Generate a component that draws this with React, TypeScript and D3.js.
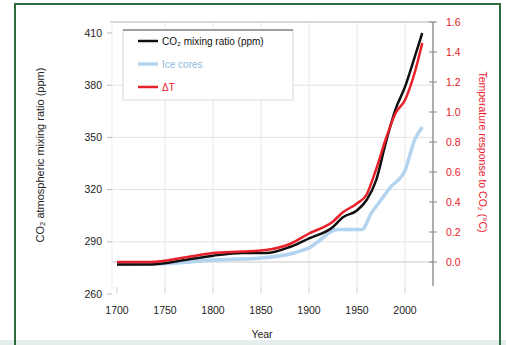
import React from "react";
import * as d3 from "d3";

// black series: CO2 mixing ratio (ppm), left axis
const years = [1700, 1735, 1770, 1800, 1830, 1855, 1880, 1900, 1925, 1935, 1950, 1960, 1970, 1980, 1990, 2000, 2010, 2018];
const co2 = [277, 277, 279.5, 282, 283.5, 283.5, 287, 292, 298.5, 304, 308, 314, 325.5, 347, 366, 379, 396, 410];

// light blue series, left axis
const blueYears = [1700, 1750, 1800, 1850, 1880, 1900, 1930, 1955, 1965, 1975, 1985, 2000, 2010, 2018];
const blueVals = [277, 277.5, 279.5, 280.7, 283, 286.5, 297, 297, 306.5, 314, 321.5, 331, 348.5, 356];

// red series, right axis
const redVals = [0.0, 0.0, 0.03, 0.06, 0.07, 0.08, 0.12, 0.19, 0.27, 0.33, 0.39, 0.45, 0.62, 0.82, 0.99, 1.08, 1.26, 1.46];

const xTicks = [1700, 1750, 1800, 1850, 1900, 1950, 2000];
const leftTicks = [260, 290, 320, 350, 380, 410];
const rightTicks = [0, 0.2, 0.4, 0.6, 0.8, 1.0, 1.2, 1.4, 1.6];

const legendItems = [
  { label: "CO₂ mixing ratio (ppm)", color: "#111", w: 2.5 },
  { label: "Ice cores", color: "#b3d4f0", w: 3.5 },
  { label: "ΔT", color: "#e8202a", w: 2.5 },
];

const RED = "#e8202a";

export default function App() {
  const x = d3.scaleLinear().domain([1700, 2000]).range([117, 405]);
  const yL = d3.scaleLinear().domain([260, 410]).range([294, 33]);
  const yR = d3.scaleLinear().domain([0, 1.6]).range([262, 22]);

  const lineL = d3.line<[number, number]>().x(d => x(d[0])).y(d => yL(d[1])).curve(d3.curveMonotoneX);
  const lineR = d3.line<[number, number]>().x(d => x(d[0])).y(d => yR(d[1])).curve(d3.curveMonotoneX);

  const black = lineL(years.map((y, i) => [y, co2[i]]));
  const blue = lineL(blueYears.map((y, i) => [y, blueVals[i]]));
  const red = lineR(years.map((y, i) => [y, redVals[i]]));

  const font = "Liberation Sans, Arial, sans-serif";

  return (
    <svg width={506} height={345} style={{ position: "absolute", left: 0, top: 0 }} fontFamily={font}>
      <rect width={506} height={345} fill="#fff" />
      <rect x={0} y={340} width={506} height={5} fill="#e6eded" />
      <rect x={15} y={4} width={485} height={345} fill="none" stroke="#2d6a3c" strokeWidth={2} />

      {/* grid */}
      {leftTicks.slice(1, 5).map(t => (
        <line key={"h" + t} x1={112} x2={433} y1={yL(t)} y2={yL(t)} stroke="#e2e2e2" />
      ))}
      <line x1={112} x2={433} y1={yR(0)} y2={yR(0)} stroke="#c8c8c8" />
      {xTicks.slice(1).map(t => (
        <line key={"v" + t} x1={x(t)} x2={x(t)} y1={22} y2={287} stroke="#e6e6e6" />
      ))}
      <line x1={110} x2={435} y1={22} y2={22} stroke="#b0b0b0" />
      <line x1={112} x2={112} y1={22} y2={290} stroke="#ededed" />

      {/* left axis */}
      {leftTicks.map(t => (
        <g key={"l" + t}>
          <line x1={107} x2={112} y1={yL(t)} y2={yL(t)} stroke="#bbb" />
          <text x={102} y={yL(t)} dy="0.35em" textAnchor="end" fontSize={10.5} fill="#222">{t}</text>
        </g>
      ))}
      <text transform="translate(44,155) rotate(-90)" textAnchor="middle" fontSize={11} fill="#222">
        CO₂ atmospheric mixing ratio (ppm)
      </text>

      {/* bottom axis */}
      {xTicks.map(t => (
        <g key={"x" + t}>
          <line x1={x(t)} x2={x(t)} y1={287} y2={293} stroke="#ccc" />
          <text x={x(t)} y={314} textAnchor="middle" fontSize={10.5} fill="#222">{t}</text>
        </g>
      ))}
      <text x={262} y={338} textAnchor="middle" fontSize={10.5} fill="#222">Year</text>

      {/* right axis */}
      <line x1={433} x2={433} y1={22} y2={286} stroke="#777" strokeWidth={1.2} />
      {rightTicks.map(t => (
        <g key={"r" + t}>
          <line x1={429} x2={437} y1={yR(t)} y2={yR(t)} stroke="#888" />
          <text x={446} y={yR(t)} dy="0.35em" fontSize={10.5} fill={RED}>{t.toFixed(1)}</text>
        </g>
      ))}
      <text transform="translate(479,152) rotate(90)" textAnchor="middle" fontSize={10.5} fill={RED}>
        Temperature response to CO₂ (°C)
      </text>

      {/* series */}
      <path d={blue || ""} fill="none" stroke="#b3d4f0" strokeWidth={3.5} />
      <path d={black || ""} fill="none" stroke="#111" strokeWidth={2.5} />
      <path d={red || ""} fill="none" stroke={RED} strokeWidth={2.5} />

      {/* legend */}
      <rect x={123} y={30} width={170} height={70} fill="#fff" stroke="#d8d8d8" />
      <line x1={123} x2={293} y1={30} y2={30} stroke="#555" />
      {legendItems.map((d, i) => (
        <g key={d.label} transform={`translate(138,${41 + i * 23})`}>
          <line x1={0} x2={20} y1={0} y2={0} stroke={d.color} strokeWidth={d.w} />
          <text x={24} y={0} dy="0.35em" fontSize={10} fill={i === 1 ? "#8fb8dc" : i === 2 ? RED : "#111"}>
            {d.label}
          </text>
        </g>
      ))}
    </svg>
  );
}
